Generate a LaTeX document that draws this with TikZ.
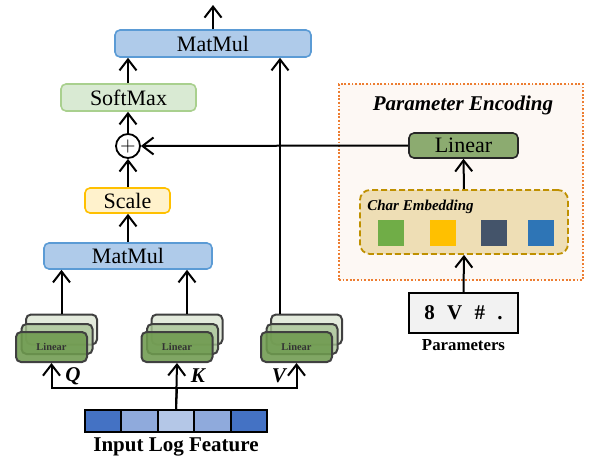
\documentclass[tikz,border=0pt]{standalone}
\usepackage{fontspec}
\setmainfont{Liberation Serif}
\usetikzlibrary{arrows.meta,positioning,calc}

\definecolor{mmFill}{HTML}{AFCBEA}
\definecolor{mmDraw}{HTML}{5B9BD5}
\definecolor{smFill}{HTML}{D9EAD3}
\definecolor{smDraw}{HTML}{A9D08E}
\definecolor{scFill}{HTML}{FFF2CC}
\definecolor{scDraw}{HTML}{FFC000}
\definecolor{linFill}{HTML}{8CAB70}
\definecolor{stBack}{HTML}{E3EADC}
\definecolor{stMid}{HTML}{A9C496}
\definecolor{stFront}{HTML}{6E9A4E}
\definecolor{stDraw}{HTML}{404040}
\definecolor{peFill}{HTML}{FDF8F4}
\definecolor{peDraw}{HTML}{ED7D31}
\definecolor{ceFill}{HTML}{EEDEB5}
\definecolor{ceDraw}{HTML}{BF9000}
\definecolor{featDark}{HTML}{4472C4}
\definecolor{featMid}{HTML}{8FAADC}
\definecolor{featLight}{HTML}{B4C7E7}

\tikzset{
  box/.style={draw, rounded corners=2.5pt, line width=0.8pt, inner sep=0pt,
    font=\fontsize{11}{12}\selectfont},
  arr/.style={-{Straight Barb[length=5.5pt,width=8.5pt]}, line width=1pt},
  stackbox/.style={draw=stDraw, rounded corners=2.5pt, line width=1pt,
    minimum width=35.5pt, minimum height=15pt, inner sep=0pt},
  cell/.style={draw, line width=1pt, minimum width=18.2pt, minimum height=11pt, inner sep=0pt},
  emb/.style={minimum size=13pt, inner sep=0pt},
  qkv/.style={font=\fontsize{10.5}{12}\selectfont\bfseries\itshape}
}

\begin{document}
\begin{tikzpicture}[x=0.5pt, y=-0.5pt]
  \useasboundingbox (0,0) rectangle (589,461);

  % attention column
  \node[box, fill=mmFill, draw=mmDraw, minimum width=98pt, minimum height=13.5pt] (matmulTop) at (213,43.5) {MatMul};
  \coordinate (out) at (213,5);
  \node[box, fill=smFill, draw=smDraw, minimum width=67.5pt, minimum height=13.5pt] (softmax) at (128.5,97.5) {SoftMax};
  \node[circle, draw, line width=0.9pt, minimum size=12pt, inner sep=0pt,
    font=\fontsize{10}{10}\selectfont\bfseries] (plus) at (128,146) {$+$};
  \node[box, fill=scFill, draw=scDraw, minimum width=42.5pt, minimum height=12.5pt] (scale) at (127.5,200.5) {Scale};
  \node[box, fill=mmFill, draw=mmDraw, minimum width=84pt, minimum height=13pt] (matmulLow) at (128,256) {MatMul};

  % linear stacks
  \foreach \name/\x in {Q/51.5, K/177, V/296.5}{
    \node[stackbox, fill=stBack] (\name-back) at (\x+10,329.5) {};
    \node[stackbox, fill=stMid, fill opacity=0.8] (\name-mid) at (\x+5.5,339) {};
    \node[stackbox, fill=stFront, fill opacity=0.88, text opacity=1, text=black!80,
      font=\fontsize{5.2}{6}\selectfont\bfseries] (\name-front) at (\x,347) {Linear};
  }
  \coordinate (vOut) at ($(V-back.north west)+(10,0)$);

  % input feature
  \foreach \i/\col in {1/featDark, 2/featMid, 3/featLight, 4/featMid, 5/featDark}{
    \node[cell, fill=\col] (cell\i) at (85+36.4*\i-18.2,421) {};
  }
  \node[font=\fontsize{10.5}{12}\selectfont\bfseries] (inputLabel) at (176,447) {Input Log Feature};
  \coordinate (split) at (177,388);

  \node[qkv] (qLabel) at (73,376) {Q};
  \node[qkv] (kLabel) at (198,376) {K};
  \node[qkv] (vLabel) at (279,376) {V};

  % parameter encoding
  \node[draw=peDraw, fill=peFill, line width=0.9pt, dash pattern=on 0.9pt off 0.9pt,
    minimum width=122pt, minimum height=98pt] (paramEnc) at (461,182) {};
  \node[font=\fontsize{10.5}{12}\selectfont\bfseries\itshape] (peTitle) at (463,105) {Parameter Encoding};
  \node[box, fill=linFill, draw=black!85, minimum width=54.5pt, minimum height=12.5pt] (linearP) at (463.5,145.5) {Linear};
  \node[draw=ceDraw, fill=ceFill, line width=0.9pt, dash pattern=on 3pt off 1.5pt,
    rounded corners=5pt, minimum width=104pt, minimum height=32pt] (charEmb) at (464,222) {};
  \node[anchor=west, font=\fontsize{7.5}{9}\selectfont\bfseries\itshape, inner sep=0pt] (ceTitle) at (367,207) {Char Embedding};
  \node[emb, fill={rgb,255:red,112;green,173;blue,71}] (embA) at (391,233) {};
  \node[emb, fill={rgb,255:red,255;green,192;blue,0}] (embB) at (443,233) {};
  \node[emb, fill={rgb,255:red,68;green,84;blue,106}] (embC) at (494,233) {};
  \node[emb, fill={rgb,255:red,46;green,117;blue,182}] (embD) at (541,233) {};
  \node[draw, fill=black!5, line width=0.8pt, minimum width=54.5pt, minimum height=20pt, inner sep=0pt,
    font=\fontsize{10.5}{12}\selectfont\bfseries] (params) at (463.5,313) {8\,\ \,V\,\ \,\#\,\ \,.};
  \node[font=\fontsize{8.4}{10}\selectfont\bfseries] (paramsLabel) at (463.5,345) {Parameters};

  % connectors
  \draw[arr] (matmulTop.north) -- (out);
  \draw[arr] (softmax.north -| plus) -- (plus |- matmulTop.south);
  \draw[arr] (plus.north) -- (plus |- softmax.south);
  \draw[arr] (scale.north -| plus) -- (plus.south);
  \draw[arr] (matmulLow.north -| plus) -- (plus |- scale.south);
  \draw[arr] (Q-back.north) -- (Q-back.north |- matmulLow.south);
  \draw[arr] (K-back.north) -- (K-back.north |- matmulLow.south);
  \draw[arr] (vOut) -- (vOut |- matmulTop.south);
  \draw[line width=1pt] (cell3.north) -- (split);
  \draw[arr] (split) -| (Q-front.south);
  \draw[arr] (cell3.north) -- (K-front.south);
  \draw[arr] (split) -| (V-front.south);
  \draw[arr] (linearP.west) -- (plus.east);
  \draw[arr] (charEmb.north) -- (linearP.south);
  \draw[arr] (params.north) -- (charEmb.south);
\end{tikzpicture}
\end{document}
